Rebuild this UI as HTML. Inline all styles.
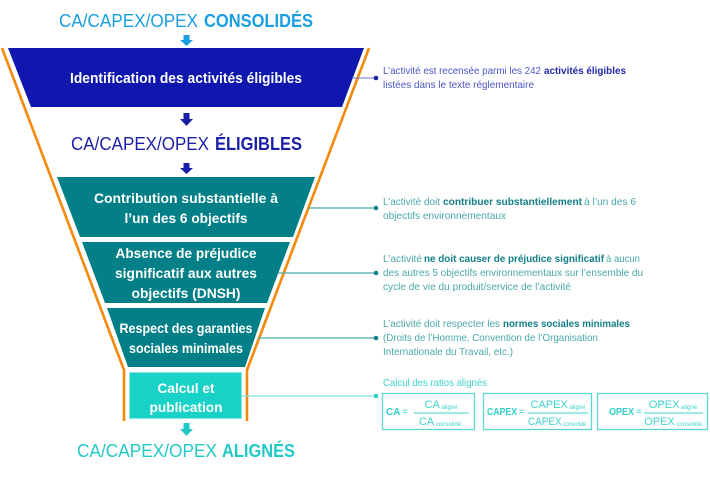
<!DOCTYPE html>
<html><head><meta charset="utf-8"><style>
html,body{margin:0;padding:0;background:#fff;}
svg{display:block;}
text{font-family:"Liberation Sans",sans-serif;}
</style></head><body>
<svg width="710" height="477" viewBox="0 0 710 477" xmlns="http://www.w3.org/2000/svg">
<!-- Titles -->
<text x="59" y="27" font-size="18" fill="#1a9ee2" textLength="139" lengthAdjust="spacingAndGlyphs">CA/CAPEX/OPEX</text>
<text x="204" y="27" font-size="18" font-weight="bold" fill="#1a9ee2" textLength="109" lengthAdjust="spacingAndGlyphs">CONSOLIDÉS</text>
<polygon points="183.5,35 189.5,35 189.5,40 193,40 186.5,46 180,40 183.5,40" fill="#1a9ee2"/>

<!-- Orange funnel -->
<polyline points="2,48 124,370 124,421" fill="none" stroke="#f5890a" stroke-width="2.6"/>
<polyline points="369,48 247,370 247,421" fill="none" stroke="#f5890a" stroke-width="2.6"/>

<!-- Dark blue trapezoid -->
<polygon points="8,48 364,48 342,107 31,107" fill="#0f17ae"/>
<text x="186" y="83" font-size="14.5" font-weight="bold" fill="#fff" text-anchor="middle" textLength="232" lengthAdjust="spacingAndGlyphs">Identification des activités éligibles</text>

<polygon points="183.5,113 189.5,113 189.5,119 193,119 186.5,126 180,119 183.5,119" fill="#1a1fa8"/>
<text x="71" y="150" font-size="18" fill="#1a1fa8" textLength="138" lengthAdjust="spacingAndGlyphs">CA/CAPEX/OPEX</text>
<text x="215" y="150" font-size="18" font-weight="bold" fill="#1a1fa8" textLength="87" lengthAdjust="spacingAndGlyphs">ÉLIGIBLES</text>
<polygon points="183.5,163 189.5,163 189.5,168 193,168 186.5,174 180,168 183.5,168" fill="#1a1fa8"/>

<!-- Teal trapezoids -->
<polygon points="57,177 315,177 293,237 80,237" fill="#037f87"/>
<text x="186" y="203" font-size="14" font-weight="bold" fill="#fff" text-anchor="middle" textLength="184" lengthAdjust="spacingAndGlyphs">Contribution substantielle à</text>
<text x="186" y="223" font-size="14" font-weight="bold" fill="#fff" text-anchor="middle" textLength="123" lengthAdjust="spacingAndGlyphs">l’un des 6 objectifs</text>

<polygon points="82,242 290,242 267,303 105,303" fill="#037f87"/>
<text x="186" y="258" font-size="14" font-weight="bold" fill="#fff" text-anchor="middle" textLength="141" lengthAdjust="spacingAndGlyphs">Absence de préjudice</text>
<text x="186" y="278" font-size="14" font-weight="bold" fill="#fff" text-anchor="middle" textLength="142" lengthAdjust="spacingAndGlyphs">significatif aux autres</text>
<text x="186" y="298" font-size="14" font-weight="bold" fill="#fff" text-anchor="middle" textLength="109" lengthAdjust="spacingAndGlyphs">objectifs (DNSH)</text>

<polygon points="107,308 265,308 245,367 128,367" fill="#037f87"/>
<text x="186" y="333" font-size="14" font-weight="bold" fill="#fff" text-anchor="middle" textLength="133" lengthAdjust="spacingAndGlyphs">Respect des garanties</text>
<text x="186" y="353" font-size="14" font-weight="bold" fill="#fff" text-anchor="middle" textLength="114" lengthAdjust="spacingAndGlyphs">sociales minimales</text>

<rect x="129" y="372" width="113" height="47" fill="#18d2c7"/>
<rect x="129.5" y="372.5" width="112" height="46" fill="none" stroke="#8ceae4" stroke-width="1"/>
<text x="186" y="393" font-size="14" font-weight="bold" fill="#fff" text-anchor="middle" textLength="57" lengthAdjust="spacingAndGlyphs">Calcul et</text>
<text x="186" y="412" font-size="14" font-weight="bold" fill="#fff" text-anchor="middle" textLength="73" lengthAdjust="spacingAndGlyphs">publication</text>

<polygon points="183.5,423 189.5,423 189.5,429 193,429 186.5,436 180,429 183.5,429" fill="#22c9c6"/>
<text x="77" y="457" font-size="18" fill="#22c9c6" textLength="140" lengthAdjust="spacingAndGlyphs">CA/CAPEX/OPEX</text>
<text x="222" y="457" font-size="18" font-weight="bold" fill="#22c9c6" textLength="73" lengthAdjust="spacingAndGlyphs">ALIGNÉS</text>

<!-- Connectors -->
<line x1="352" y1="78" x2="376" y2="78" stroke="#6c73d6" stroke-width="1"/>
<circle cx="376" cy="78" r="2.3" fill="#1a1fa8"/>
<line x1="308" y1="208" x2="376" y2="208" stroke="#4aa9ae" stroke-width="1.2"/>
<circle cx="376" cy="208" r="2.3" fill="#0f8189"/>
<line x1="278" y1="273" x2="376" y2="273" stroke="#4aa9ae" stroke-width="1.2"/>
<circle cx="376" cy="273" r="2.3" fill="#0f8189"/>
<line x1="258" y1="338" x2="376" y2="338" stroke="#4aa9ae" stroke-width="1.2"/>
<circle cx="376" cy="338" r="2.3" fill="#0f8189"/>
<line x1="242" y1="396" x2="376" y2="396" stroke="#7fe3de" stroke-width="1.2"/>
<circle cx="376" cy="396" r="2.3" fill="#2fd0c8"/>

<!-- Annotation 1 -->
<text x="383" y="74" font-size="10.5" fill="#4d55c5" textLength="158" lengthAdjust="spacingAndGlyphs">L’activité est recensée parmi les 242</text>
<text x="544" y="74" font-size="10.5" font-weight="bold" fill="#2228a8" textLength="82" lengthAdjust="spacingAndGlyphs">activités éligibles</text>
<text x="383" y="88" font-size="10.5" fill="#4d55c5" textLength="151" lengthAdjust="spacingAndGlyphs">listées dans le texte réglementaire</text>

<!-- Annotation 2 -->
<text x="383" y="205" font-size="10.5" fill="#4aa8aa" textLength="57" lengthAdjust="spacingAndGlyphs">L’activité doit</text>
<text x="443" y="205" font-size="10.5" font-weight="bold" fill="#137f86" textLength="139" lengthAdjust="spacingAndGlyphs">contribuer substantiellement</text>
<text x="584" y="205" font-size="10.5" fill="#4aa8aa" textLength="52" lengthAdjust="spacingAndGlyphs">à l’un des 6</text>
<text x="383" y="219" font-size="10.5" fill="#4aa8aa" textLength="123" lengthAdjust="spacingAndGlyphs">objectifs environnementaux</text>

<!-- Annotation 3 -->
<text x="383" y="262" font-size="10.5" fill="#4aa8aa" textLength="39" lengthAdjust="spacingAndGlyphs">L’activité</text>
<text x="424" y="262" font-size="10.5" font-weight="bold" fill="#137f86" textLength="180" lengthAdjust="spacingAndGlyphs">ne doit causer de préjudice significatif</text>
<text x="606" y="262" font-size="10.5" fill="#4aa8aa" textLength="34" lengthAdjust="spacingAndGlyphs">à aucun</text>
<text x="383" y="276" font-size="10.5" fill="#4aa8aa" textLength="260" lengthAdjust="spacingAndGlyphs">des autres 5 objectifs environnementaux sur l’ensemble du</text>
<text x="383" y="290" font-size="10.5" fill="#4aa8aa" textLength="188" lengthAdjust="spacingAndGlyphs">cycle de vie du produit/service de l’activité</text>

<!-- Annotation 4 -->
<text x="383" y="327" font-size="10.5" fill="#4aa8aa" textLength="117" lengthAdjust="spacingAndGlyphs">L’activité doit respecter les</text>
<text x="503" y="327" font-size="10.5" font-weight="bold" fill="#137f86" textLength="127" lengthAdjust="spacingAndGlyphs">normes sociales minimales</text>
<text x="383" y="341" font-size="10.5" fill="#4aa8aa" textLength="215" lengthAdjust="spacingAndGlyphs">(Droits de l’Homme, Convention de l’Organisation</text>
<text x="383" y="355" font-size="10.5" fill="#4aa8aa" textLength="130" lengthAdjust="spacingAndGlyphs">Internationale du Travail, etc.)</text>

<!-- Annotation 5 -->
<text x="383" y="386" font-size="10.5" fill="#3fd3cb" textLength="104" lengthAdjust="spacingAndGlyphs">Calcul des ratios alignés</text>

<rect x="382.5" y="393.5" width="92" height="36" fill="none" stroke="#5dd8d0" stroke-width="1.3"/>
<rect x="483.5" y="393.5" width="108" height="36" fill="none" stroke="#5dd8d0" stroke-width="1.3"/>
<rect x="597.5" y="393.5" width="110" height="36" fill="none" stroke="#5dd8d0" stroke-width="1.3"/>

<!-- Box 1 -->
<text x="386" y="415" font-size="10" font-weight="bold" fill="#2fd0c8">CA</text>
<text x="402" y="415" font-size="10" fill="#2fd0c8">=</text>
<text x="441" y="408" font-size="11" fill="#3fd3cb" text-anchor="middle">CA<tspan font-size="6" dy="1"> aligné</tspan></text>
<line x1="414" y1="413" x2="469" y2="413" stroke="#3fd3cb" stroke-width="1"/>
<text x="440" y="425" font-size="11" fill="#3fd3cb" text-anchor="middle">CA<tspan font-size="6" dy="1"> consolidé</tspan></text>

<!-- Box 2 -->
<text x="487" y="415" font-size="10" font-weight="bold" fill="#2fd0c8" textLength="30" lengthAdjust="spacingAndGlyphs">CAPEX</text>
<text x="519" y="415" font-size="10" fill="#2fd0c8">=</text>
<text x="558" y="408" font-size="11" fill="#3fd3cb" text-anchor="middle">CAPEX<tspan font-size="6" dy="1"> aligné</tspan></text>
<line x1="528" y1="413" x2="588" y2="413" stroke="#3fd3cb" stroke-width="1"/>
<text x="557" y="425" font-size="11" fill="#3fd3cb" text-anchor="middle" textLength="58" lengthAdjust="spacingAndGlyphs">CAPEX<tspan font-size="6" dy="1"> consolidé</tspan></text>

<!-- Box 3 -->
<text x="609" y="415" font-size="10" font-weight="bold" fill="#2fd0c8" textLength="25" lengthAdjust="spacingAndGlyphs">OPEX</text>
<text x="636" y="415" font-size="10" fill="#2fd0c8">=</text>
<text x="673" y="408" font-size="11" fill="#3fd3cb" text-anchor="middle">OPEX<tspan font-size="6" dy="1"> aligné</tspan></text>
<line x1="644" y1="413" x2="703" y2="413" stroke="#3fd3cb" stroke-width="1"/>
<text x="673" y="425" font-size="11" fill="#3fd3cb" text-anchor="middle">OPEX<tspan font-size="6" dy="1"> consolidé</tspan></text>
</svg>
</body></html>
